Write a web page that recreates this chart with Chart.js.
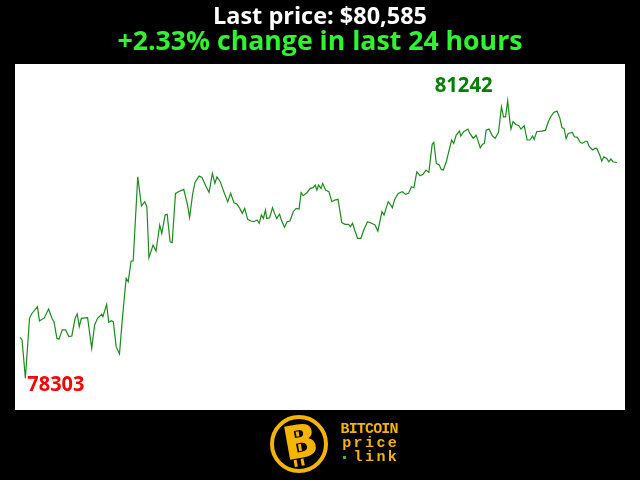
<!DOCTYPE html>
<html>
<head>
<meta charset="utf-8">
<script src="https://cdn.jsdelivr.net/npm/chart.js@4"></script>
<style>
  html, body { margin: 0; padding: 0; background: #000; }
  canvas { display: block; }
</style>
</head>
<body>
<canvas id="priceChart" width="640" height="480"></canvas>
<script>
// Minutos desde el inicio de las ultimas 24 horas
const minutes = [
  0, 5, 13, 23, 28, 42, 47, 59, 69, 77, 82, 89, 94, 102, 110, 118, 125, 133, 138, 143,
  148, 163, 173, 180, 187, 197, 200, 209, 214, 220, 225, 232, 240, 247, 256, 261, 268, 273, 284, 293,
  301, 306, 311, 321, 328, 337, 342, 350, 355, 362, 367, 375, 382, 395, 404, 409, 416, 422, 432, 439,
  449, 456, 464, 470, 475, 483, 493, 501, 508, 516, 523, 530, 536, 542, 549, 557, 564, 572, 577, 582,
  587, 592, 595, 602, 609, 614, 619, 626, 631, 638, 644, 651, 659, 666, 673, 678, 683, 692, 700, 707,
  712, 716, 720, 726, 730, 737, 745, 752, 759, 767, 776, 784, 792, 797, 802, 807, 814, 822, 829, 838,
  848, 856, 863, 873, 878, 883, 888, 893, 898, 903, 912, 922, 930, 937, 944, 950, 957, 965, 972, 979,
  986, 994, 998, 1004, 1011, 1016, 1021, 1028, 1034, 1041, 1046, 1052, 1060, 1063, 1070, 1080, 1085, 1093, 1100, 1110,
  1115, 1120, 1124, 1131, 1139, 1146, 1154, 1161, 1166, 1171, 1176, 1181, 1184, 1189, 1196, 1203, 1208, 1216, 1223, 1230,
  1236, 1240, 1246, 1258, 1267, 1274, 1280, 1287, 1295, 1302, 1307, 1312, 1317, 1322, 1332, 1337, 1344, 1351, 1356, 1364,
  1368, 1373, 1381, 1386, 1391, 1398, 1403, 1408, 1415, 1420, 1425, 1430, 1440
];

// Precio en USD
const prices = [
  78737, 78709, 78303, 78938, 78984, 79062, 78910, 78945, 79037, 78938, 78903, 78726, 78716, 78815, 78815, 78744, 78751, 78938, 78984, 78850,
  78938, 78945, 78621, 78867, 78938, 78980, 78956, 79086, 78896, 78913, 78903, 78638, 78561, 78938, 79361, 79326, 79545, 79545, 80437, 80127,
  80173, 80120, 79580, 79714, 79651, 79926, 79838, 80032, 80039, 79749, 79739, 80261, 80279, 80303, 80138, 80007, 80243, 80377, 80444, 80430,
  80332, 80272, 80473, 80367, 80437, 80385, 80261, 80173, 80261, 80162, 80148, 80102, 80049, 80102, 79986, 79968, 79961, 79979, 79944, 80032,
  79996, 80085, 79996, 80003, 80109, 80049, 79996, 80039, 79972, 79901, 79961, 79968, 80067, 80102, 80095, 80268, 80236, 80268, 80314, 80321,
  80349, 80296, 80349, 80314, 80367, 80296, 80279, 80173, 80190, 80198, 79951, 79933, 79933, 79908, 79944, 79873, 79785, 79785, 79873, 79961,
  79944, 79926, 79862, 80067, 80032, 80102, 80173, 80145, 80109, 80190, 80261, 80279, 80250, 80261, 80332, 80321, 80490, 80448, 80462, 80508,
  80483, 80780, 80801, 80579, 80561, 80515, 80508, 80596, 80702, 80826, 80790, 80878, 80921, 80868, 80914, 80942, 80896, 80843, 80878, 80744,
  80780, 80790, 80931, 80942, 80871, 80843, 80907, 81178, 81072, 81072, 81242, 81037, 80942, 81020, 80991, 80977, 80942, 80977, 80826, 80826,
  80868, 80833, 80914, 80921, 80928, 81020, 81072, 81118, 81132, 81055, 80956, 80949, 80843, 80896, 80907, 80861, 80854, 80801, 80790, 80815,
  80808, 80755, 80720, 80737, 80737, 80667, 80603, 80649, 80631, 80596, 80624, 80596, 80585
];

const titleText = "Last price: $80,585";
const changeText = "+2.33% change in last 24 hours";
const logoLines = ["BITCOIN", "price", "link"];

const points = minutes.map((m, i) => ({ x: m, y: prices[i] }));

// Escribe texto ajustando el ancho
function fitText(ctx, text, x, y, width, font, align) {
  ctx.save();
  ctx.font = font;
  const w = ctx.measureText(text).width;
  const s = width / w;
  ctx.textAlign = "left";
  let left = x;
  if (align === "center") left = x - width / 2;
  if (align === "right") left = x - width;
  ctx.translate(left, y);
  ctx.scale(s, 1);
  ctx.fillText(text, 0, 0);
  ctx.restore();
}

const decor = {
  id: "decor",
  beforeDraw(chart) {
    const { ctx, chartArea: a } = chart;
    ctx.save();
    ctx.fillStyle = "#000";
    ctx.fillRect(0, 0, chart.width, chart.height);
    ctx.fillStyle = "#fff";
    ctx.fillRect(a.left, a.top, a.right - a.left, a.bottom - a.top);
    ctx.restore();
  },
  afterDraw(chart) {
    const { ctx } = chart;
    const xs = chart.scales.x, ys = chart.scales.y;
    ctx.save();
    ctx.textBaseline = "alphabetic";

    ctx.fillStyle = "#ffffff";
    fitText(ctx, titleText, 320, 24, 214, 'bold 24px "Open Sans"', "center");
    ctx.fillStyle = "#2ef52e";
    fitText(ctx, changeText, 320, 50, 405, 'bold 27px "Open Sans"', "center");

    // minimo y maximo
    const lo = prices.indexOf(Math.min(...prices));
    const hi = prices.indexOf(Math.max(...prices));
    const lx = xs.getPixelForValue(minutes[lo]), ly = ys.getPixelForValue(prices[lo]);
    const hx = xs.getPixelForValue(minutes[hi]), hy = ys.getPixelForValue(prices[hi]);
    ctx.fillStyle = "#ff0000";
    fitText(ctx, String(prices[lo]), lx + 2, ly + 13, 57, 'bold 22px "Open Sans"', "left");
    ctx.fillStyle = "#008000";
    fitText(ctx, String(prices[hi]), hx - 15, hy - 9, 58, 'bold 22px "Open Sans"', "right");

    // logo
    const gold = "#f5b400";
    ctx.strokeStyle = gold;
    ctx.lineWidth = 4;
    ctx.beginPath();
    ctx.arc(299, 444, 27, 0, Math.PI * 2);
    ctx.stroke();
    ctx.save();
    ctx.translate(299, 445);
    ctx.rotate(-0.18);
    ctx.fillStyle = gold;
    ctx.fillRect(-8, -21, 3, 42);
    ctx.fillRect(-1, -21, 3, 42);
    ctx.font = 'bold 46px "DejaVu Sans"';
    ctx.textAlign = "center";
    ctx.textBaseline = "middle";
    ctx.lineWidth = 2;
    ctx.strokeStyle = "#000";
    ctx.strokeText("B", 2, 1);
    ctx.fillText("B", 2, 1);
    ctx.restore();

    ctx.fillStyle = gold;
    ctx.font = 'bold 15px "Liberation Mono"';
    ctx.textAlign = "center";
    ctx.textBaseline = "middle";
    const rows = [429, 443, 457];
    logoLines.forEach((t, r) => {
      const n = r === 2 ? t.length + 1 : t.length;
      const step = 57 / n;
      const off = r === 2 ? 1 : 0;
      for (let i = 0; i < t.length; i++) {
        ctx.fillText(t[i], 341 + step * (i + off + 0.5), rows[r]);
      }
    });
    ctx.fillStyle = "#22cc22";
    ctx.fillRect(343, 456, 3, 3);
    ctx.restore();
  }
};

let ctx = document.getElementById("priceChart");
let priceChart = new Chart(ctx, {
  type: "line",
  data: {
    datasets: [{
      data: points,
      borderColor: "#1a8c1a",
      borderWidth: 1.2,
      pointRadius: 0,
      tension: 0,
      fill: false
    }]
  },
  options: {
    responsive: false,
    animation: false,
    devicePixelRatio: 1,
    layout: { padding: { left: 15, right: 15, top: 64, bottom: 70 } },
    plugins: { legend: { display: false }, tooltip: { enabled: false } },
    scales: {
      x: { type: "linear", display: false, min: -12, max: 1459 },
      y: { display: false, min: 77967, max: 81631 }
    }
  },
  plugins: [decor]
});
</script>
</body>
</html>
